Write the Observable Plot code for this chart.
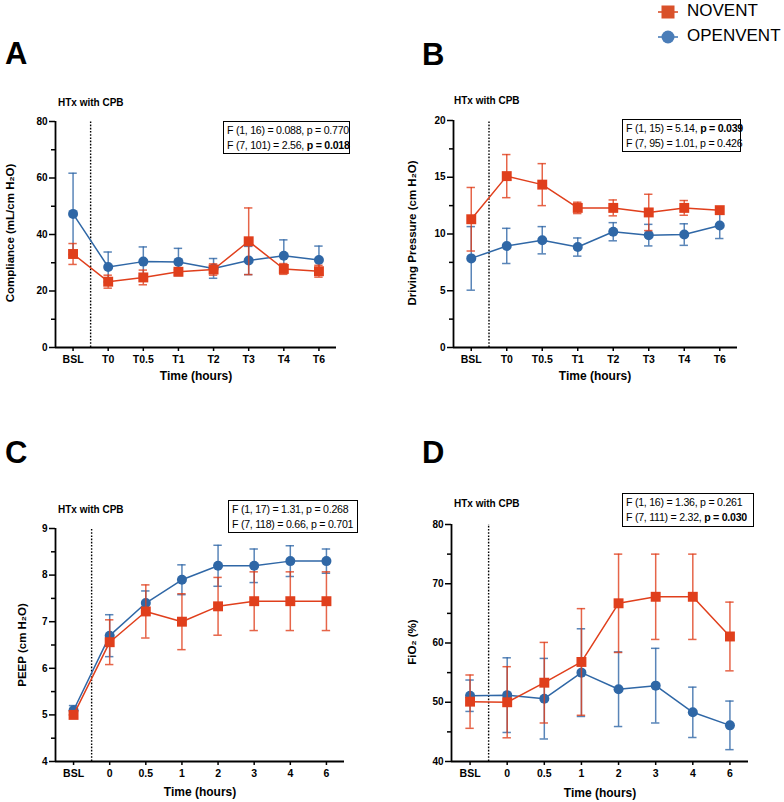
<!DOCTYPE html>
<html>
<head>
<meta charset="utf-8">
<script src="https://cdn.jsdelivr.net/npm/d3@7"></script>
<script src="https://cdn.jsdelivr.net/npm/@observablehq/plot@0.6"></script>
<style>
  html, body { margin: 0; padding: 0; background: #fff; }
  body { width: 784px; height: 802px; position: relative; overflow: hidden;
         font-family: "Liberation Sans", Arial, Helvetica, sans-serif; color: #000; }
  .abs { position: absolute; white-space: nowrap; }
  .letter { font-size: 31px; font-weight: 900; line-height: 1; }
  .htx { font-size: 10px; font-weight: bold; transform: translateY(-50%); }
  .stats { border: 1.2px solid #000; font-size: 10.6px; line-height: 14.5px; padding: 1px 2px 1px 3px; letter-spacing: -0.25px; box-sizing: border-box; }
  .ytitle { font-size: 11.5px; font-weight: bold; transform: translate(-50%, -50%) rotate(-90deg); }
  .xtitle { font-size: 12px; font-weight: bold; transform: translate(-50%, -50%); }
  .legend { font-size: 17px; }
</style>
</head>
<body>
<script>
// ---------- data ----------
const timeLabelsAB = ["BSL", "T0", "T0.5", "T1", "T2", "T3", "T4", "T6"];
const timeLabelsCD = ["BSL", "0", "0.5", "1", "2", "3", "4", "6"];
const seriesNames = ["NOVENT", "OPENVENT"];

// A: Compliance (mL/cm H2O)
const complianceNovent     = [33.1, 23.3, 24.8, 26.8, 27.6, 37.6, 27.8, 27.0];
const complianceNoventErr  = [3.7, 2.3, 2.6, 0.8, 2.0, 11.8, 1.9, 2.1];
const complianceOpenvent   = [47.3, 28.5, 30.4, 30.3, 28.0, 30.8, 32.5, 31.0];
const complianceOpenventErr= [14.4, 5.3, 5.2, 4.8, 3.5, 5.0, 5.6, 4.9];

// B: Driving Pressure (cm H2O)
const drivingNovent      = [11.3, 15.1, 14.35, 12.3, 12.3, 11.9, 12.3, 12.1];
const drivingNoventErr   = [2.8, 1.9, 1.85, 0.5, 0.7, 1.6, 0.65, 0.15];
const drivingOpenvent    = [7.85, 8.95, 9.45, 8.85, 10.2, 9.9, 9.95, 10.75];
const drivingOpenventErr = [2.8, 1.55, 1.2, 0.8, 0.8, 0.95, 0.95, 1.15];

// C: PEEP (cm H2O)
const peepNovent      = [5.0, 6.56, 7.22, 7.0, 7.33, 7.44, 7.44, 7.44];
const peepNoventErr   = [0, 0.48, 0.57, 0.6, 0.62, 0.63, 0.63, 0.63];
const peepOpenvent    = [5.1, 6.7, 7.4, 7.9, 8.2, 8.2, 8.3, 8.3];
const peepOpenventErr = [0.1, 0.45, 0.26, 0.32, 0.44, 0.36, 0.33, 0.26];

// D: FiO2 (%)
const fio2Novent      = [50.1, 50.0, 53.3, 56.8, 66.7, 67.8, 67.8, 61.1];
const fio2NoventErr   = [4.5, 6.0, 6.8, 9.0, 8.3, 7.2, 7.2, 5.8];
const fio2Openvent    = [51.1, 51.2, 50.6, 55.0, 52.2, 52.8, 48.3, 46.1];
const fio2OpenventErr = [2.65, 6.3, 6.8, 7.4, 6.3, 6.3, 4.25, 4.1];

// axis ticks
const ticksA = [0, 20, 40, 60, 80], minorA = [10, 30, 50, 70];
const ticksB = [0, 5, 10, 15, 20], minorB = [2.5, 7.5, 12.5, 17.5];
const ticksC = [4, 5, 6, 7, 8, 9], minorC = [4.5, 5.5, 6.5, 7.5, 8.5];
const ticksD = [40, 50, 60, 70, 80], minorD = [45, 55, 65, 75];

// stats text
const statsA = [["F (1, 16) = 0.088, p = 0.770", ""], ["F (7, 101) = 2.56, ", "p = 0.018"]];
const statsB = [["F (1, 15) = 5.14, ", "p = 0.039"], ["F (7, 95) = 1.01, p = 0.426", ""]];
const statsC = [["F (1, 17) = 1.31, p = 0.268", ""], ["F (7, 118) = 0.66, p = 0.701", ""]];
const statsD = [["F (1, 16) = 1.36, p = 0.261", ""], ["F (7, 111) = 2.32, ", "p = 0.030"]];

// ---------- styling ----------
const RED = "#e03f1c", BLUE = "#2f67a6";
const FONT = '"Liberation Sans", Arial, Helvetica, sans-serif';

const panels = [
  {letter: "A", left: 0, top: 90, width: 392, height: 300, ml: 55, mr: 56, mt: 31, mb: 43,
   labels: timeLabelsAB, ticks: ticksA, minor: minorA, nov: complianceNovent, novErr: complianceNoventErr,
   open: complianceOpenvent, openErr: complianceOpenventErr, ytitle: "Compliance (mL/cm H₂O)",
   letterPos: [5, 38], htx: [58, 102], stats: statsA, statsBox: [223, 121, 127, 33],
   ytitlePos: [10, 233], xtitlePos: [196, 376]},
  {letter: "B", left: 392, top: 90, width: 392, height: 300, ml: 61, mr: 47, mt: 30, mb: 43,
   labels: timeLabelsAB, ticks: ticksB, minor: minorB, nov: drivingNovent, novErr: drivingNoventErr,
   open: drivingOpenvent, openErr: drivingOpenventErr, ytitle: "Driving Pressure (cm H₂O)",
   letterPos: [422, 39], htx: [454, 100], stats: statsB, statsBox: [622, 119, 119, 33],
   ytitlePos: [412, 233], xtitlePos: [595, 376]},
  {letter: "C", left: 0, top: 480, width: 392, height: 320, ml: 55, mr: 48, mt: 48, mb: 39,
   labels: timeLabelsCD, ticks: ticksC, minor: minorC, nov: peepNovent, novErr: peepNoventErr,
   open: peepOpenvent, openErr: peepOpenventErr, ytitle: "PEEP (cm H₂O)",
   letterPos: [5, 437], htx: [58, 509], stats: statsC, statsBox: [228, 500, 130, 33],
   ytitlePos: [22, 645], xtitlePos: [200, 792]},
  {letter: "D", left: 392, top: 480, width: 392, height: 320, ml: 59, mr: 36, mt: 44, mb: 39,
   labels: timeLabelsCD, ticks: ticksD, minor: minorD, nov: fio2Novent, novErr: fio2NoventErr,
   open: fio2Openvent, openErr: fio2OpenventErr, ytitle: "FiO₂ (%)",
   letterPos: [422, 437], htx: [454, 503], stats: statsD, statsBox: [622, 493, 132, 34],
   ytitlePos: [412, 642], xtitlePos: [600, 793]}
];

function addDiv(cls, x, y, html) {
  const d = document.createElement("div");
  d.className = "abs " + cls;
  d.style.left = x + "px";
  d.style.top = y + "px";
  d.innerHTML = html;
  document.body.appendChild(d);
  return d;
}

function seriesMarks(vals, errs, color, symbol, r, capW) {
  const data = vals.map((v, i) => ({i, v, lo: v - errs[i], hi: v + errs[i]}));
  return [
    Plot.ruleX(data, {x: "i", y1: "lo", y2: "hi", stroke: color, strokeWidth: 1.5, strokeOpacity: 0.8}),
    Plot.ruleY(data, {y: "hi", x1: d => d.i - capW, x2: d => d.i + capW, stroke: color, strokeWidth: 1.5, strokeOpacity: 0.8}),
    Plot.ruleY(data, {y: "lo", x1: d => d.i - capW, x2: d => d.i + capW, stroke: color, strokeWidth: 1.5, strokeOpacity: 0.8}),
    Plot.line(data, {x: "i", y: "v", stroke: color, strokeWidth: 1.5}),
    Plot.dot(data, {x: "i", y: "v", symbol, r, fill: color, stroke: "none"})
  ];
}

for (const p of panels) {
  const n = p.labels.length;
  const yMin = p.ticks[0], yMax = p.ticks[p.ticks.length - 1];
  const stepPx = (p.width - p.ml - p.mr) / n;
  const capW = 4.2 / stepPx;
  const chart = Plot.plot({
    width: p.width, height: p.height,
    marginLeft: p.ml, marginRight: p.mr, marginTop: p.mt, marginBottom: p.mb,
    style: {fontFamily: FONT, fontSize: "10px", background: "transparent", overflow: "visible"},
    x: {type: "linear", domain: [-0.5, n - 0.5], axis: null},
    y: {domain: [yMin, yMax], axis: null},
    marks: [
      Plot.axisY({ticks: p.ticks, tickSize: 6, tickPadding: 2, tickFormat: d => String(d), label: null, fontWeight: "bold", fontSize: 10, strokeWidth: 1.5}),
      Plot.axisY({ticks: p.minor, tickSize: 4, tickFormat: () => "", label: null, strokeWidth: 1.5}),
      Plot.axisX({ticks: d3.range(n), tickSize: 4, tickPadding: 4, tickFormat: i => p.labels[i], label: null, fontWeight: "bold", fontSize: 10.5, strokeWidth: 1.5}),
      Plot.ruleX([-0.5], {y1: yMin, y2: yMax, stroke: "#000", strokeWidth: 1.8}),
      Plot.ruleY([yMin], {x1: -0.5, x2: n - 0.5, stroke: "#000", strokeWidth: 1.8}),
      Plot.ruleX([0.5], {y1: yMin, y2: yMax, stroke: "#000", strokeWidth: 1.4, strokeDasharray: "1.6,1.6"}),
      ...seriesMarks(p.open, p.openErr, BLUE, "circle", 5, capW),
      ...seriesMarks(p.nov, p.novErr, RED, "square", 5.6, capW)
    ]
  });
  const holder = document.createElement("div");
  holder.className = "abs";
  holder.style.left = p.left + "px";
  holder.style.top = p.top + "px";
  holder.appendChild(chart);
  document.body.appendChild(holder);

  addDiv("letter", p.letterPos[0], p.letterPos[1], p.letter);
  addDiv("htx", p.htx[0], p.htx[1], "HTx with CPB");
  const box = addDiv("stats", p.statsBox[0], p.statsBox[1],
    p.stats.map(([a, b]) => a + (b ? "<b>" + b + "</b>" : "")).join("<br>"));
  box.style.width = p.statsBox[2] + "px";
  box.style.height = p.statsBox[3] + "px";
  addDiv("ytitle", p.ytitlePos[0], p.ytitlePos[1], p.ytitle);
  addDiv("xtitle", p.xtitlePos[0], p.xtitlePos[1], "Time (hours)");
}

// legend
const legendSvg = (shape, color) =>
  `<svg width="22" height="16" style="vertical-align:middle">` +
  `<line x1="1" x2="21" y1="8" y2="8" stroke="${color}" stroke-width="1.6"/>` +
  (shape === "square"
    ? `<rect x="4.5" y="1.5" width="13" height="13" fill="${color}"/>`
    : `<circle cx="11" cy="8" r="6.5" fill="${color}"/>`) + `</svg>`;
addDiv("legend", 657, 1, legendSvg("square", "#d9512a") + `<span style="margin-left:8px">${seriesNames[0]}</span>`);
addDiv("legend", 657, 26, legendSvg("circle", "#4a7db8") + `<span style="margin-left:8px">${seriesNames[1]}</span>`);
</script>
</body>
</html>
